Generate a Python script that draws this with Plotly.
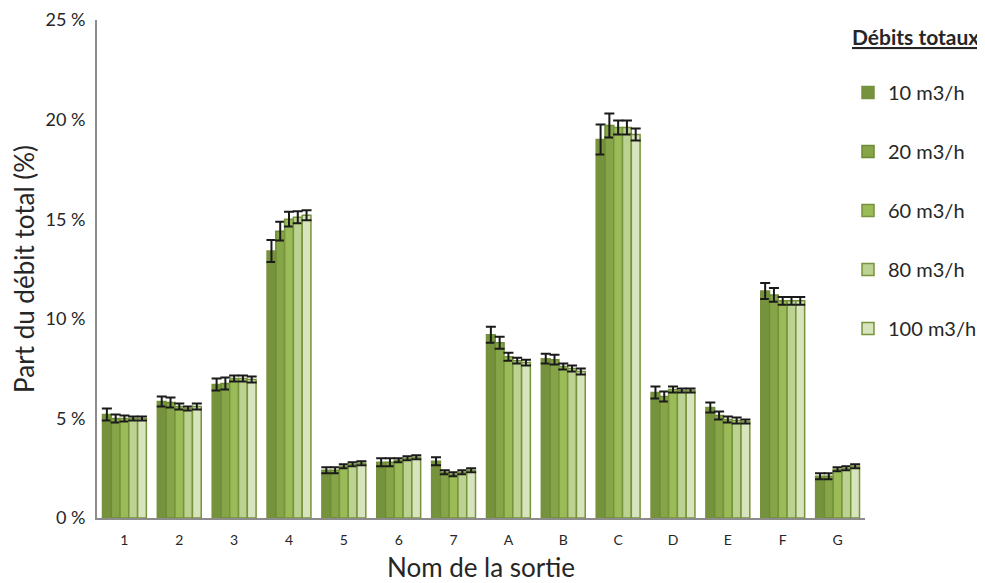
import plotly.graph_objects as go

categories = ["1", "2", "3", "4", "5", "6", "7", "A", "B", "C", "D", "E", "F", "G"]
series_names = ["10 m3/h", "20 m3/h", "60 m3/h", "80 m3/h", "100 m3/h"]

v10 = [5.2, 5.85, 6.7, 13.4, 2.4, 2.8, 2.85, 9.2, 8.0, 19.0, 6.3, 5.55, 11.4, 2.1]
v20 = [5.0, 5.8, 6.75, 14.4, 2.4, 2.8, 2.3, 8.8, 7.95, 19.7, 6.1, 5.15, 11.2, 2.1]
v60 = [5.0, 5.6, 7.0, 15.0, 2.6, 2.9, 2.2, 8.1, 7.6, 19.6, 6.45, 4.95, 10.9, 2.45]
v80 = [5.0, 5.5, 7.0, 15.1, 2.7, 3.0, 2.3, 7.9, 7.5, 19.6, 6.4, 4.9, 10.9, 2.5]
v100 = [5.0, 5.6, 6.95, 15.2, 2.75, 3.05, 2.4, 7.8, 7.35, 19.25, 6.4, 4.85, 10.9, 2.6]

e10 = [0.3, 0.25, 0.3, 0.55, 0.15, 0.2, 0.2, 0.4, 0.25, 0.75, 0.3, 0.25, 0.4, 0.15]
e20 = [0.2, 0.25, 0.3, 0.47, 0.15, 0.2, 0.1, 0.3, 0.25, 0.6, 0.25, 0.2, 0.35, 0.15]
e60 = [0.15, 0.15, 0.15, 0.37, 0.1, 0.1, 0.1, 0.2, 0.15, 0.35, 0.15, 0.15, 0.2, 0.1]
e80 = [0.1, 0.1, 0.15, 0.3, 0.1, 0.1, 0.1, 0.15, 0.15, 0.35, 0.1, 0.15, 0.2, 0.1]
e100 = [0.1, 0.15, 0.15, 0.25, 0.1, 0.1, 0.1, 0.15, 0.15, 0.3, 0.1, 0.1, 0.2, 0.1]

values = [v10, v20, v60, v80, v100]
errors = [e10, e20, e60, e80, e100]
fills = ["#76923C", "#86A548", "#9BBB59", "#BCD292", "#D7E4BD"]
edges = ["#76923C", "#6E8B35", "#77933C", "#77933C", "#77933C"]

FONT = "Lato"
TXT = "#262626"

# figure is drawn at an 8px page offset; plot area in figure coords: x 89..857, y 12..510
W, H = 977, 575
L, R, T, B = 89, 120, 12, 65
PW, PH = W - L - R, H - T - B

fig = go.Figure()
for i, name in enumerate(series_names):
    fig.add_trace(go.Bar(
        x=categories, y=values[i], name=name,
        legendgroup=name,
        marker=dict(color=fills[i], line=dict(color=edges[i], width=1.5)),
        error_y=dict(type="data", array=errors[i], visible=True,
                     color="#1a1a1a", thickness=2, width=5),
    ))

fig.add_annotation(
    text="<b>Débits totaux</b>", xref="paper", yref="paper",
    x=(973 - L) / PW, xanchor="right", y=(H - B - 29) / PH, yanchor="middle",
    showarrow=False,
    font=dict(size=21, color=TXT, family=FONT, lineposition="under"),
)

fig.update_layout(
    width=W, height=H,
    margin=dict(l=L, r=R, t=T, b=B, autoexpand=False),
    paper_bgcolor="white", plot_bgcolor="white",
    barmode="group", bargap=0.2, bargroupgap=0,
    font=dict(family=FONT, color=TXT),
    showlegend=True,
    legend=dict(
        x=(840 - L) / PW, xanchor="left", y=(H - B - 65) / PH, yanchor="top",
        xref="paper", yref="paper",
        tracegroupgap=30,
        font=dict(size=20, color=TXT, family=FONT),
        itemwidth=30,
        bgcolor="rgba(0,0,0,0)",
    ),
    xaxis=dict(
        showline=True, linecolor="#8C8C8C", linewidth=2,
        ticks="", tickfont=dict(size=14, color=TXT), ticklabelstandoff=8,
        title=dict(text="Nom de la sortie", font=dict(size=26, color=TXT), standoff=16),
    ),
    yaxis=dict(
        range=[0, 25], dtick=5, ticksuffix=" %",
        showgrid=False, zeroline=False,
        showline=True, linecolor="#8C8C8C", linewidth=2,
        ticks="", tickfont=dict(size=18, color=TXT), ticklabelstandoff=6,
        ticklabeloverflow="allow",
        title=dict(text="Part du débit total (%)", font=dict(size=26, color=TXT), standoff=12),
    ),
)

fig.write_html("out.html")
